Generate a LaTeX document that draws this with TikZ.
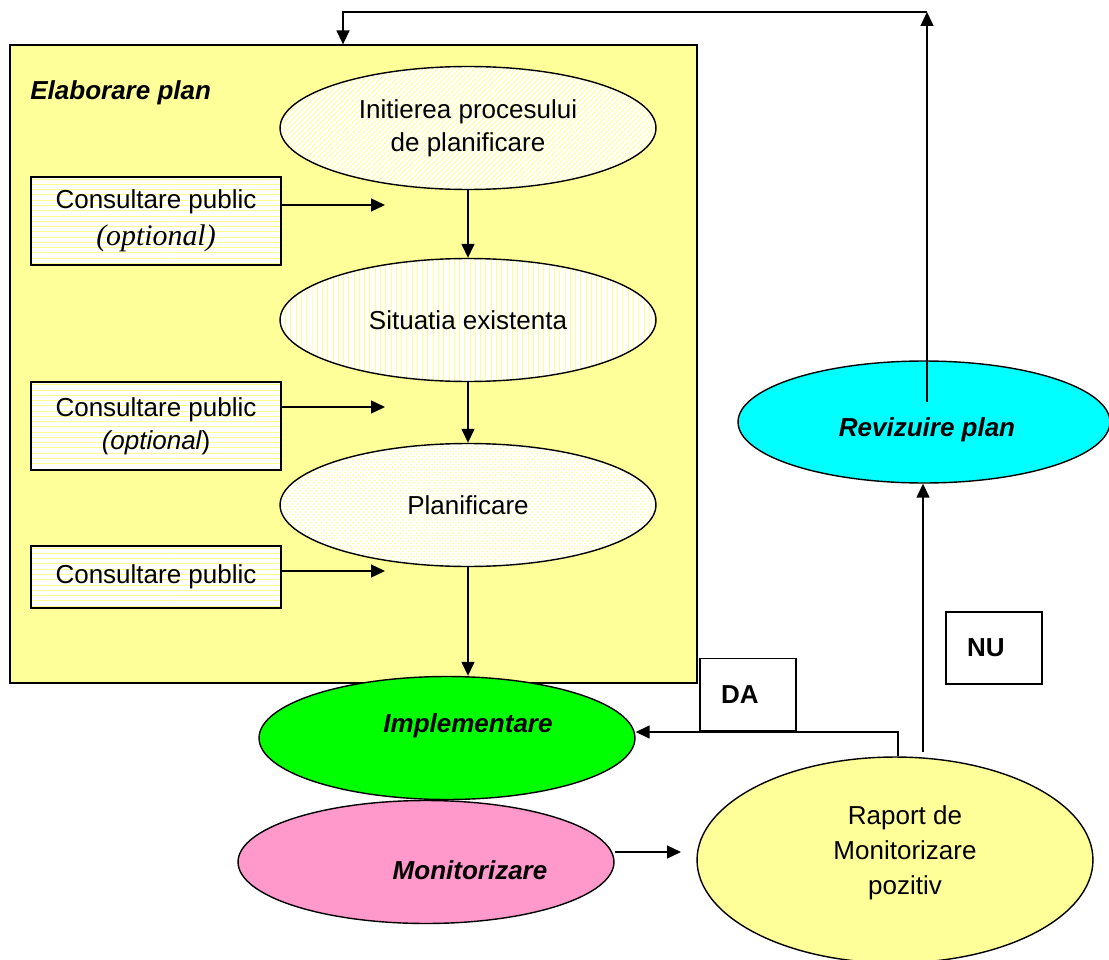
\documentclass[tikz,border=0pt]{standalone}
\usepackage{fontspec}
\setmainfont{Liberation Sans}
\newfontfamily\serifit{Liberation Serif}
\usepackage{tikz}
\usetikzlibrary{shapes.geometric,arrows.meta,patterns}
\definecolor{planyellow}{HTML}{FFFF99}
\definecolor{implgreen}{HTML}{00FF00}
\definecolor{monpink}{HTML}{FF99CC}
\definecolor{revcyan}{HTML}{00FFFF}
\tikzset{
    plan-frame/.style = {draw, fill=planyellow, line width=0.8pt, rectangle, minimum width=13.74cm, minimum height=12.76cm, inner sep=0pt},
    frame-title/.style = {font=\bfseries\itshape, anchor=west, inner sep=0pt},
    phase-ellipse/.style = {draw, ellipse, line width=0.8pt, minimum width=7.52cm, minimum height=2.46cm, inner sep=0pt, align=center, preaction={fill=white}, pattern color=yellow!45},
    state-ellipse/.style = {draw, ellipse, line width=0.8pt, minimum width=7.52cm, minimum height=2.46cm, inner sep=0pt, align=center},
    state-label/.style = {font=\bfseries\itshape, inner sep=0pt},
    consult-box/.style = {draw, rectangle, line width=0.8pt, minimum width=5cm, inner sep=0pt, align=center, preaction={fill=white}, pattern=horizontal lines, pattern color=yellow!45},
    answer-box/.style = {draw, fill=white, rectangle, line width=0.8pt, minimum width=1.92cm, minimum height=1.44cm, inner xsep=0.42cm, text width=1.08cm, align=left, font=\bfseries},
    flow-arrow/.style = {-{Triangle[length=0.28cm,width=0.26cm]}, line width=0.8pt},
}

\begin{document}
\fontsize{14.8}{19}\selectfont
\begin{tikzpicture}[x=0.02cm, y=-0.02cm]
\useasboundingbox (0,0) rectangle (1109,960);
\node [plan-frame] (frame) at (353.5,364) {};
\node [frame-title] (plan-title) at (30,93) {Elaborare plan};

\node [phase-ellipse, pattern=north east lines] (initiere) at (468,128) {Initierea procesului\\de planificare};
\node [phase-ellipse, pattern=vertical lines] (situatie) at (468,320) {Situatia existenta};
\node [phase-ellipse, pattern=crosshatch dots] (planificare) at (468,505) {Planificare};

\node [consult-box, minimum height=1.76cm] (consult-a) at (156,221) {Consultare public\\[2pt]{\serifit\itshape\fontsize{17}{19}\selectfont (optional)}};
\node [consult-box, minimum height=1.76cm] (consult-b) at (156,426) {Consultare public\\{\itshape (optional})};
\node [consult-box, minimum height=1.24cm] (consult-c) at (156,577) {Consultare public};

\coordinate (consult-a-end) at (385,205);
\coordinate (consult-b-end) at (385,407);
\coordinate (consult-c-end) at (385,571);
\draw [flow-arrow] (consult-a-end -| consult-a.east) -- (consult-a-end);
\draw [flow-arrow] (consult-b-end -| consult-b.east) -- (consult-b-end);
\draw [flow-arrow] (consult-c-end -| consult-c.east) -- (consult-c-end);

\node [state-ellipse, fill=implgreen] (implem) at (447,738) {};
\node [state-label] (implem-label) at (468,726) {Implementare};
\node [state-ellipse, fill=monpink] (monitor) at (426,862) {};
\node [state-label] (monitor-label) at (470,870) {Monitorizare};
\node [state-ellipse, fill=planyellow, minimum width=7.92cm, minimum height=4.12cm] (raport) at (895,860) {};
\node [align=center, inner sep=0pt] (raport-label) at (905,853) {Raport de\\[1pt]Monitorizare\\[1pt]pozitiv};
\node [state-ellipse, fill=revcyan, minimum width=7.44cm, minimum height=2.44cm] (revizuire) at (924,422) {};
\node [state-label] (revizuire-label) at (927,430) {Revizuire plan};

\draw [flow-arrow] (initiere) -- (situatie);
\draw [flow-arrow] (situatie) -- (planificare);
\draw [flow-arrow] (planificare.south) -- (planificare.south |- implem.north);

\node [answer-box] (answer-da) at (748,694.5) {DA};
\node [answer-box] (answer-nu) at (994,648) {NU};

\coordinate (da-corner) at (898,732);
\draw [flow-arrow] (raport.north -| da-corner) -- (da-corner) -- (da-corner -| implem.east);
\coordinate (nu-start) at (923,752);
\draw [flow-arrow] (nu-start) -- (nu-start |- revizuire.south);

\coordinate (monitor-end) at (681,852);
\draw [flow-arrow] (monitor-end -| monitor.east) -- (monitor-end);

\coordinate (reviz-inner) at (927,402);
\coordinate (loop-right) at (927,12);
\coordinate (loop-left) at (343,12);
\draw [flow-arrow] (reviz-inner) -- (loop-right);
\draw [flow-arrow] (loop-right) -- (loop-left) -- (loop-left |- frame.north);
\end{tikzpicture}
\end{document}
